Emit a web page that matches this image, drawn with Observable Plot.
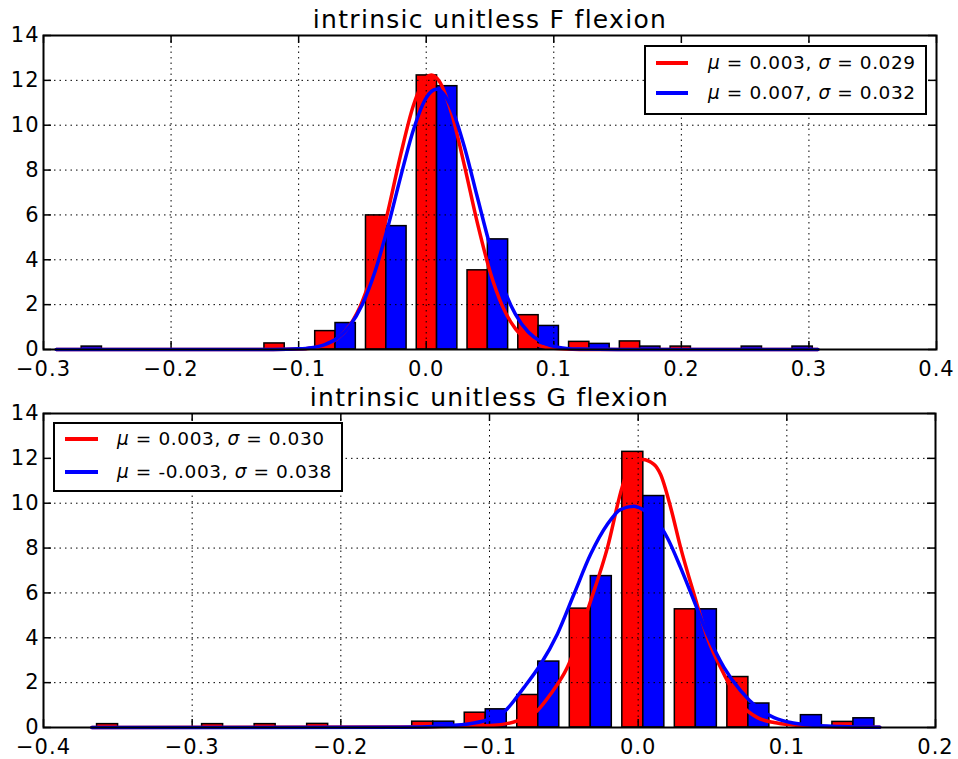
<!DOCTYPE html>
<html><head><meta charset="utf-8">
<script src="https://cdn.jsdelivr.net/npm/d3@7"></script>
<script src="https://cdn.jsdelivr.net/npm/@observablehq/plot@0.6"></script>
<style>
body{margin:0;background:#fff;}
#wrap{position:relative;width:958px;height:759px;font-family:"DejaVu Sans";overflow:hidden;}
.panel{position:absolute;left:0;}
.panel svg text{letter-spacing:1px;}
.panel svg g[aria-label="text"] text{letter-spacing:1.3px;}
.legend{position:absolute;border:2px solid #000;background:#fff;box-sizing:border-box;font-size:18.5px;letter-spacing:0.6px;color:#000;}
.legend .sw{position:absolute;height:4px;margin-top:-2px;}
.legend .lab{position:absolute;white-space:nowrap;line-height:1;transform:translateY(-50%);}
</style>
</head><body>
<div id="wrap"></div>
<script>
// ---------- data ----------
const yTicks = [0, 2, 4, 6, 8, 10, 12, 14];

// top panel: intrinsic unitless F flexion
const topTitle = "intrinsic unitless F flexion";
const topXTicks = [-0.3, -0.2, -0.1, 0.0, 0.1, 0.2, 0.3, 0.4];
const topBinStart = -0.290;
const topBinWidth = 0.0398;
const topRed  = [0, 0, 0, 0, 0.27, 0.82, 5.98, 12.22, 3.53, 1.53, 0.34, 0.36, 0.13, 0, 0];
const topBlue = [0.13, 0, 0, 0, 0, 1.18, 5.50, 11.74, 4.91, 1.05, 0.25, 0.13, 0, 0.13, 0.13];
const topRedCurveX = [-0.290, -0.15, -0.12, -0.10, -0.08, -0.07, -0.06, -0.05, -0.04, -0.03, -0.02, -0.01, 0.0, 0.004, 0.01, 0.02, 0.03, 0.04, 0.05, 0.06, 0.07, 0.08, 0.09, 0.10, 0.12, 0.15, 0.307];
const topRedCurveY = [0, 0, 0.003, 0.02, 0.18, 0.47, 1.07, 2.16, 3.87, 6.16, 8.69, 10.89, 12.12, 12.24, 11.98, 10.51, 8.19, 5.67, 3.48, 1.90, 0.92, 0.40, 0.15, 0.05, 0.005, 0, 0];
const topBlueCurveX = [-0.290, -0.15, -0.12, -0.10, -0.09, -0.08, -0.07, -0.06, -0.05, -0.04, -0.03, -0.02, -0.01, 0.0, 0.008, 0.02, 0.03, 0.04, 0.05, 0.06, 0.07, 0.08, 0.09, 0.10, 0.11, 0.12, 0.15, 0.307];
const topBlueCurveY = [0, 0, 0.002, 0.03, 0.08, 0.21, 0.49, 1.05, 2.02, 3.50, 5.47, 7.71, 9.80, 11.22, 11.60, 10.76, 9.02, 6.81, 4.63, 2.84, 1.57, 0.78, 0.35, 0.14, 0.05, 0.02, 0, 0];
const topLegend = [["0.003", "0.029"], ["0.007", "0.032"]];

// bottom panel: intrinsic unitless G flexion
const botTitle = "intrinsic unitless G flexion";
const botXTicks = [-0.4, -0.3, -0.2, -0.1, 0.0, 0.1, 0.2];
const botBinStart = -0.3675;
const botBinWidth = 0.03533;
const botRed  = [0.15, 0, 0.15, 0.15, 0.16, 0, 0.26, 0.66, 1.45, 5.30, 12.29, 5.27, 2.25, 0, 0.25];
const botBlue = [0, 0, 0, 0, 0, 0, 0.26, 0.81, 2.94, 6.75, 10.32, 5.27, 1.07, 0.55, 0.41];
const botRedCurveX = [-0.3675, -0.15, -0.133, -0.099, -0.081, -0.068, -0.059, -0.0477, -0.032, -0.0207, -0.0106, -0.0039, 0.0028, 0.0106, 0.0151, 0.0219, 0.0286, 0.0376, 0.0466, 0.0578, 0.069, 0.0802, 0.0914, 0.1026, 0.125, 0.1625];
const botRedCurveY = [0, 0.02, 0.05, 0.09, 0.3, 0.74, 1.48, 2.67, 5.64, 8.01, 10.76, 11.88, 11.95, 11.73, 11.28, 9.80, 8.01, 5.94, 4.00, 2.37, 1.04, 0.44, 0.22, 0.12, 0.05, 0.01];
const botBlueCurveX = [-0.3675, -0.16, -0.133, -0.1105, -0.0903, -0.0769, -0.0656, -0.0544, -0.0432, -0.032, -0.0207, -0.0118, -0.0028, 0.0017, 0.0106, 0.0196, 0.0286, 0.0376, 0.0466, 0.0578, 0.069, 0.0802, 0.0914, 0.1026, 0.1139, 0.136, 0.1625];
const botBlueCurveY = [0, 0.01, 0.06, 0.2, 0.7, 1.78, 2.82, 4.16, 5.94, 7.72, 9.06, 9.72, 9.87, 9.77, 9.35, 8.46, 7.12, 5.64, 4.16, 2.67, 1.63, 0.89, 0.44, 0.22, 0.12, 0.04, 0.01];
const botLegend = [["0.003", "0.030"], ["-0.003", "0.038"]];

const RED = "#ff0000", BLUE = "#0000ff";

// ---------- drawing ----------
function panel(cfg) {
  const ph = cfg.height - cfg.mt - cfg.mb;
  const pw = 958 - 43 - cfg.mr;
  const redBars = [], blueBars = [];
  cfg.red.forEach((v, i) => {
    const lo = cfg.binStart + i * cfg.binWidth;
    if (v > 0) redBars.push({x1: lo + 0.1 * cfg.binWidth, x2: lo + 0.5 * cfg.binWidth, v});
    const b = cfg.blue[i];
    if (b > 0) blueBars.push({x1: lo + 0.5 * cfg.binWidth, x2: lo + 0.9 * cfg.binWidth, v: b});
  });
  const redLine = cfg.rcx.map((x, i) => ({x, y: cfg.rcy[i]}));
  const blueLine = cfg.bcx.map((x, i) => ({x, y: cfg.bcy[i]}));
  const grid = {stroke: "black", strokeOpacity: 1, strokeWidth: 1, strokeDasharray: "1.5,4"};
  return Plot.plot({
    width: 958, height: cfg.height,
    marginLeft: 43, marginRight: cfg.mr, marginTop: cfg.mt, marginBottom: cfg.mb,
    style: {fontFamily: '"DejaVu Sans"', fontSize: "21px", color: "black", background: "white", overflow: "visible"},
    x: {domain: cfg.xDomain, ticks: cfg.xTicks, tickFormat: d3.format(".1f"), tickSize: 0, tickPadding: 12, label: null},
    y: {domain: [0, 14], ticks: yTicks, tickFormat: d => String(d), tickSize: 0, tickPadding: 4, label: null},
    marks: [
      Plot.rect(redBars, {x1: "x1", x2: "x2", y1: 0, y2: "v", fill: RED, stroke: "black", strokeWidth: 1.5}),
      Plot.rect(blueBars, {x1: "x1", x2: "x2", y1: 0, y2: "v", fill: BLUE, stroke: "black", strokeWidth: 1.5}),
      Plot.ruleX(cfg.xTicks, {x: d => d, ...grid}),
      Plot.ruleY(yTicks, {y: d => d, ...grid}),
      Plot.tickX(cfg.xTicks, {x: d => d, stroke: "black", strokeWidth: 1.5, insetTop: ph - 8}),
      Plot.tickX(cfg.xTicks, {x: d => d, stroke: "black", strokeWidth: 1.5, insetBottom: ph - 8}),
      Plot.tickY(yTicks, {y: d => d, stroke: "black", strokeWidth: 1.5, insetRight: pw - 8}),
      Plot.tickY(yTicks, {y: d => d, stroke: "black", strokeWidth: 1.5, insetLeft: pw - 8}),
      Plot.line(redLine, {x: "x", y: "y", stroke: RED, strokeWidth: 3.5, curve: "monotone-x"}),
      Plot.line(blueLine, {x: "x", y: "y", stroke: BLUE, strokeWidth: 3.5, curve: "monotone-x"}),
      Plot.frame({stroke: "black", strokeWidth: 2}),
      Plot.text([cfg.title], {text: d => d, frameAnchor: "top", dy: -8, lineAnchor: "bottom", fontSize: 25, fill: "black"})
    ]
  });
}

function legend(entries, box) {
  const el = document.createElement("div");
  el.className = "legend";
  Object.assign(el.style, {left: box.left + "px", top: box.top + "px", width: box.width + "px", height: box.height + "px"});
  const colors = [RED, BLUE];
  entries.forEach((e, i) => {
    const sw = document.createElement("div");
    sw.className = "sw";
    Object.assign(sw.style, {left: box.swLeft + "px", width: box.swWidth + "px", top: box.rows[i] + "px", background: colors[i]});
    const lab = document.createElement("div");
    lab.className = "lab";
    Object.assign(lab.style, {left: box.textLeft + "px", top: box.rows[i] + "px"});
    lab.innerHTML = `<i>μ</i> = ${e[0]}, <i>σ</i> = ${e[1]}`;
    el.appendChild(sw); el.appendChild(lab);
  });
  return el;
}

const wrap = document.getElementById("wrap");
const p1 = document.createElement("div"); p1.className = "panel"; p1.style.top = "0px";
p1.appendChild(panel({height: 380, mt: 35, mb: 31, mr: 22, xDomain: [-0.3, 0.4], xTicks: topXTicks,
  binStart: topBinStart, binWidth: topBinWidth, red: topRed, blue: topBlue,
  rcx: topRedCurveX, rcy: topRedCurveY, bcx: topBlueCurveX, bcy: topBlueCurveY, title: topTitle}));
wrap.appendChild(p1);
const p2 = document.createElement("div"); p2.className = "panel"; p2.style.top = "380px";
p2.appendChild(panel({height: 379, mt: 33, mb: 32, mr: 23, xDomain: [-0.4, 0.2], xTicks: botXTicks,
  binStart: botBinStart, binWidth: botBinWidth, red: botRed, blue: botBlue,
  rcx: botRedCurveX, rcy: botRedCurveY, bcx: botBlueCurveX, bcy: botBlueCurveY, title: botTitle}));
wrap.appendChild(p2);

wrap.appendChild(legend(topLegend, {left: 644, top: 45, width: 283, height: 70, swLeft: 10, swWidth: 32, textLeft: 62, rows: [15.7, 46.3]}));
wrap.appendChild(legend(botLegend, {left: 53, top: 422, width: 290, height: 70, swLeft: 10, swWidth: 33, textLeft: 62, rows: [15, 47.5]}));
</script>
</body></html>
